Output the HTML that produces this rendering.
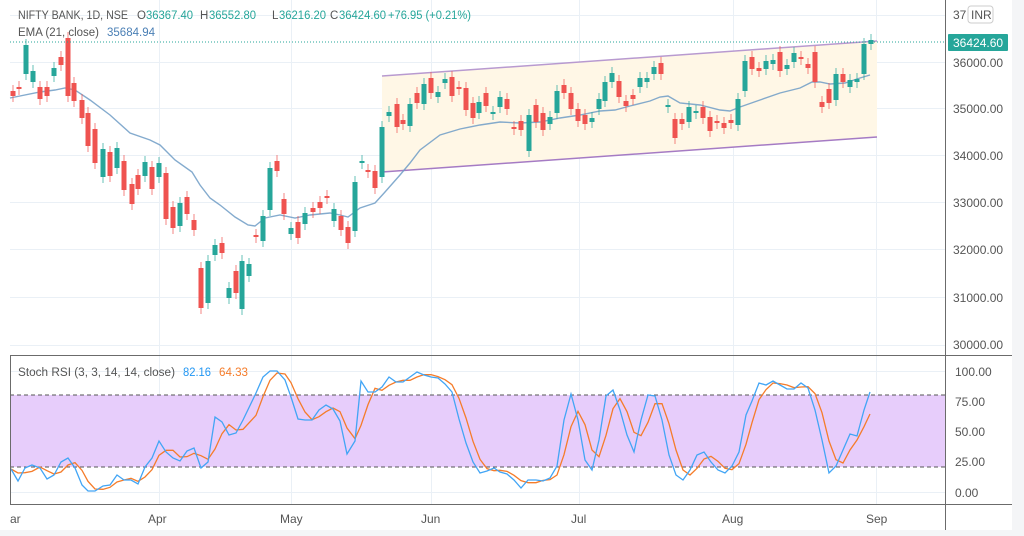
<!DOCTYPE html>
<html><head><meta charset="utf-8"><style>
html,body{margin:0;padding:0;background:#fff;}
body{width:1024px;height:536px;overflow:hidden;position:relative;font-family:"Liberation Sans",sans-serif;}
svg{position:absolute;left:0;top:0;}
</style></head><body>
<svg id="c" width="1024" height="536" viewBox="0 0 1024 536" xmlns="http://www.w3.org/2000/svg" font-family="Liberation Sans, sans-serif">
<rect x="0" y="0" width="1024" height="536" fill="#fff"/>
<rect x="1012" y="0" width="12" height="536" fill="#f4f5f7"/>
<rect x="0" y="530" width="1024" height="6" fill="#f4f5f7"/>
<g id="grid" stroke="#eaf0f6" stroke-width="1"></g>
<polygon points="382,76 877,41 877,137 382,172" fill="#fff7e6"/>
<line x1="382" y1="76" x2="877" y2="41" stroke="#b89ad0" stroke-width="1.5"/>
<line x1="382" y1="172" x2="877" y2="137" stroke="#a57bc4" stroke-width="1.5"/>
<g id="ema"></g>
<g id="candles"></g>
<line x1="10" y1="42" x2="945" y2="42" stroke="#26a69a" stroke-width="1" stroke-dasharray="1,2"/>
<rect x="10" y="395" width="935" height="72" fill="#e7cdfb"/>
<line x1="10" y1="395" x2="945" y2="395" stroke="#555" stroke-dasharray="4,3"/>
<line x1="10" y1="467" x2="945" y2="467" stroke="#555" stroke-dasharray="4,3"/>
<g id="stoch"></g>
<line x1="945.5" y1="0" x2="945.5" y2="530" stroke="#6b6b6b"/>
<line x1="10" y1="355.5" x2="1012" y2="355.5" stroke="#6b6b6b"/>
<line x1="10" y1="504.5" x2="1012" y2="504.5" stroke="#6b6b6b"/>
<line x1="10.5" y1="355" x2="10.5" y2="504" stroke="#6b6b6b"/>
<g fill="#555" font-size="12">
<text x="953" y="19">37</text>
<text x="953" y="67">36000.00</text>
<text x="953" y="113">35000.00</text>
<text x="953" y="160">34000.00</text>
<text x="953" y="207">33000.00</text>
<text x="953" y="254">32000.00</text>
<text x="953" y="302">31000.00</text>
<text x="953" y="349">30000.00</text>
<text x="955" y="376">100.00</text>
<text x="955" y="406">75.00</text>
<text x="955" y="436">50.00</text>
<text x="955" y="466">25.00</text>
<text x="955" y="497">0.00</text>
<text x="10" y="523">ar</text>
<text x="148" y="523">Apr</text>
<text x="280" y="523">May</text>
<text x="421" y="523">Jun</text>
<text x="571" y="523">Jul</text>
<text x="722" y="523">Aug</text>
<text x="866" y="523">Sep</text>
</g>
<rect x="968" y="6" width="25" height="17" rx="3" fill="#fff" stroke="#ccc"/>
<text x="971" y="19" font-size="12" fill="#555">INR</text>
<rect x="948" y="34" width="60" height="17" rx="1" fill="#26a69a"/>
<text x="953" y="47" font-size="12" fill="#fff">36424.60</text>
<g font-size="11.5" fill="#555">
<text x="18" y="19" textLength="110" lengthAdjust="spacingAndGlyphs">NIFTY BANK, 1D, NSE</text>
<text x="137" y="19">O</text><text x="146" y="19" fill="#26a69a" textLength="47" lengthAdjust="spacingAndGlyphs">36367.40</text>
<text x="200" y="19">H</text><text x="209" y="19" fill="#26a69a" textLength="47" lengthAdjust="spacingAndGlyphs">36552.80</text>
<text x="272" y="19">L</text><text x="279" y="19" fill="#26a69a" textLength="47" lengthAdjust="spacingAndGlyphs">36216.20</text>
<text x="330" y="19">C</text><text x="339" y="19" fill="#26a69a" textLength="47" lengthAdjust="spacingAndGlyphs">36424.60</text>
<text x="388" y="19" fill="#26a69a" textLength="83" lengthAdjust="spacingAndGlyphs">+76.95 (+0.21%)</text>
<text x="18" y="36" textLength="81" lengthAdjust="spacingAndGlyphs">EMA (21, close)</text>
<text x="107" y="36" fill="#4a7fb5" textLength="48" lengthAdjust="spacingAndGlyphs">35684.94</text>
<text x="18" y="376" textLength="157" lengthAdjust="spacingAndGlyphs">Stoch RSI (3, 3, 14, 14, close)</text>
<text x="183" y="376" fill="#2196f3" textLength="28" lengthAdjust="spacingAndGlyphs">82.16</text>
<text x="219" y="376" fill="#f57c2a" textLength="29" lengthAdjust="spacingAndGlyphs">64.33</text>
</g>
</svg>
<script>
var NS="http://www.w3.org/2000/svg";
function el(p,t,a){var e=document.createElementNS(NS,t);for(var k in a)e.setAttribute(k,a[k]);document.getElementById(p).appendChild(e);return e;}
[15,62,108,155,202,249,297,345,371,401,431,461,492].forEach(function(y){el("grid","line",{x1:10,x2:945,y1:y+.5,y2:y+.5});});
[159,291,431,579,733,876].forEach(function(x){el("grid","line",{x1:x+.5,x2:x+.5,y1:0,y2:504});});
var C=[[13,91,96,0],[19,87,89,0],[26,45,74,1],[33,71,82,1],[40,87,99,0],[47,87,96,0],[54,68,76,1],[61,57,65,0],[68,38,96,0],[74,83,101,0],[82,100,118,0],[88,113,146,0],[95,129,163,0],[103,149,177,1],[110,152,176,0],[117,148,168,1],[124,161,190,0],[132,184,204,0],[138,175,189,0],[145,162,176,1],[152,167,189,0],[159,163,177,1],[166,173,219,0],[173,207,228,0],[180,203,226,1],[187,197,214,0],[194,220,230,0],[201,268,308,0],[208,261,303,1],[215,245,255,1],[222,243,253,0],[229,288,298,1],[236,271,293,0],[242,261,309,1],[249,264,276,1],[256,235,237,0],[263,216,241,1],[270,168,210,1],[277,161,171,0],[284,199,214,0],[291,228,234,1],[298,222,238,0],[305,213,224,1],[313,208,212,0],[320,202,208,0],[327,196,197,0],[334,209,221,1],[341,216,230,0],[348,227,243,0],[355,182,231,1],[362,161,162,1],[368,170,171,0],[375,171,188,0],[382,127,177,1],[389,112,116,1],[397,104,127,0],[403,120,124,0],[410,104,126,1],[417,93,103,0],[424,84,104,1],[431,78,93,0],[438,92,97,1],[445,79,83,1],[452,77,96,0],[459,87,89,0],[466,88,110,0],[473,103,118,0],[479,102,113,1],[486,93,106,0],[493,112,113,1],[500,97,107,1],[507,99,109,0],[514,127,128,0],[521,121,130,0],[529,115,151,1],[536,105,122,0],[543,113,130,0],[550,117,124,1],[557,91,113,1],[564,85,93,0],[571,93,109,0],[578,109,121,0],[585,115,124,0],[592,118,122,1],[599,99,109,1],[605,82,101,1],[612,73,82,1],[619,81,97,0],[626,101,106,0],[633,95,99,0],[640,78,87,1],[647,78,82,1],[654,67,74,1],[661,63,74,0],[668,105,106,1],[675,119,138,0],[682,119,124,0],[689,107,122,1],[696,111,112,1],[703,107,118,0],[710,117,131,0],[717,121,123,0],[724,123,128,0],[731,120,123,0],[738,99,125,1],[745,61,91,1],[752,57,69,0],[759,68,71,0],[766,61,69,1],[773,60,64,1],[780,52,71,0],[787,65,69,1],[794,53,62,1],[801,57,58,0],[808,64,68,0],[815,52,82,0],[822,102,107,0],[829,89,103,0],[836,74,100,1],[843,74,82,0],[850,80,87,1],[857,79,82,1],[864,44,74,1],[871,40,44,1]];
C.forEach(function(c){var col=c[3]?"#26a69a":"#ef5350";var h=Math.max(c[2]-c[1],2);
el("candles","line",{x1:c[0],x2:c[0],y1:c[1]-6,y2:c[1]+h+6,stroke:col,"stroke-width":1,opacity:.7});
el("candles","rect",{x:c[0]-2.5,y:c[1],width:5,height:h,fill:col});});
var E=[[10,98],[40,92],[55,90],[65,88],[75,90],[90,100],[110,115],[130,133],[150,140],[160,145],[175,160],[192,172],[200,185],[210,198],[220,205],[235,217],[248,225],[255,226],[265,218],[280,215],[295,218],[310,215],[330,213],[340,215],[348,217],[360,208],[375,203],[385,192],[400,175],[410,163],[420,150],[440,135],[460,129],[480,125],[500,122],[520,123],[540,122],[560,118],[580,115],[600,111],[615,110],[630,106],[650,101],[660,97],[668,96],[680,103],[700,105],[720,110],[730,111],[740,107],[760,100],[780,93],[800,88],[812,82],[820,82],[830,84],[845,83],[860,78],[870,75]];
el("ema","polyline",{points:E.join(" "),fill:"none",stroke:"#6e9cc6","stroke-width":1.4,opacity:.85});
var K=[[11,469],[18,481],[25,468],[32,465],[40,468],[47,479],[54,475],[61,462],[68,458],[75,468],[82,485],[88,491],[95,491],[103,486],[110,485],[117,475],[124,480],[131,480],[138,484],[145,467],[152,458],[159,441],[166,452],[173,458],[180,461],[187,451],[194,448],[201,468],[208,462],[215,417],[222,422],[229,435],[236,433],[243,420],[256,393],[263,377],[270,371],[277,371],[285,380],[291,397],[298,419],[305,420],[312,420],[319,410],[326,405],[333,409],[340,421],[347,454],[355,441],[361,381],[368,392],[375,392],[382,387],[389,377],[396,382],[403,382],[410,377],[417,372],[424,375],[431,377],[438,378],[445,384],[452,392],[459,419],[466,443],[473,462],[480,473],[487,471],[494,468],[500,472],[507,474],[514,480],[521,488],[528,480],[536,480],[543,481],[550,478],[557,466],[564,420],[571,394],[578,420],[585,460],[592,470],[599,440],[606,396],[613,390],[620,410],[627,435],[634,452],[641,420],[648,395],[655,396],[662,420],[669,455],[676,475],[683,480],[690,470],[697,455],[704,452],[711,462],[718,470],[725,473],[732,466],[739,452],[746,415],[752,401],[759,383],[766,385],[773,381],[780,385],[787,389],[794,389],[801,383],[808,388],[815,410],[822,440],[829,473],[836,466],[843,450],[850,434],[857,436],[864,410],[870,392]];
var D=K.map(function(p,i){var a=K[Math.max(i-1,0)][1],b=K[Math.max(i-2,0)][1];return [p[0],(p[1]+a+b)/3];});
D[D.length-1][1]=414;
el("stoch","polyline",{points:D.join(" "),fill:"none",stroke:"#f57c2a","stroke-width":1.3});
el("stoch","polyline",{points:K.join(" "),fill:"none",stroke:"#42a5f5","stroke-width":1.3});
</script>
</body></html>
